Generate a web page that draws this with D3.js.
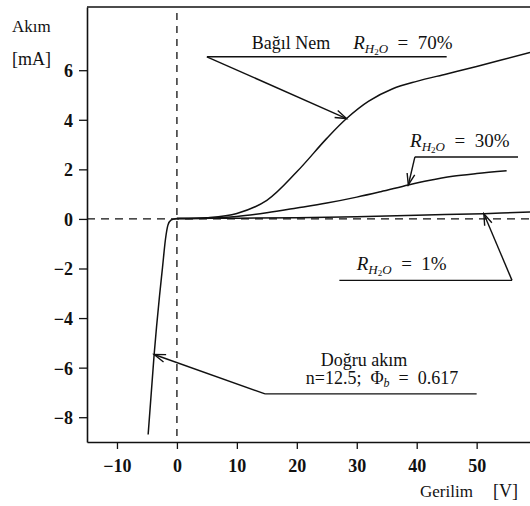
<!DOCTYPE html>
<html>
<head>
<meta charset="utf-8">
<script src="https://cdn.jsdelivr.net/npm/d3@7"></script>
<style>
  html, body { margin: 0; padding: 0; background: #fff; }
  svg { display: block; }
  text { font-family: "Liberation Serif", "Times New Roman", serif; fill: #111; }
  .tick text { font-weight: bold; font-size: 18px; }
</style>
</head>
<body>
<svg id="chart" width="530" height="506"></svg>
<script>
// Current–voltage characteristics at different relative humidity levels
const xTicks = [-10, 0, 10, 20, 30, 40, 50];
const yTicks = [-8, -6, -4, -2, 0, 2, 4, 6];

// reverse / forward-current branch (V, mA)
const reverseV = [-4.8, -3.8, -2.9, -2.4, -1.9, -1.5, -1.0, -0.4, 0];
const reverseI = [-8.7, -5.47, -3.1, -1.95, -0.8, -0.25, -0.05, 0.0, 0.02];

// R_H2O = 70 %
const rh70V = [0, 5, 10, 15, 20, 25, 28.3, 32, 36, 40, 45, 50, 58.9];
const rh70I = [0.02, 0.05, 0.22, 0.75, 1.9, 3.25, 4.05, 4.75, 5.25, 5.55, 5.85, 6.15, 6.72];

// R_H2O = 30 %
const rh30V = [0, 5, 10, 15, 20, 25, 30, 34, 38.6, 42, 46, 50, 55];
const rh30I = [0.02, 0.03, 0.1, 0.25, 0.44, 0.64, 0.88, 1.1, 1.37, 1.55, 1.72, 1.83, 1.94];

// R_H2O = 1 %
const rh1V = [0, 10, 20, 30, 40, 51.2, 58.9];
const rh1I = [0.02, 0.03, 0.05, 0.09, 0.15, 0.21, 0.28];

// callout anchors: arrow tip on the curve and elbow of the leader (V, mA)
const callouts = [
  { key: "rh70", tip: [28.3, 4.05], elbow: [5.0, 6.54], lineEnd: 45.0 },
  { key: "rh30", tip: [38.6, 1.37], elbow: [39.7, 2.5], lineEnd: 56.9 },
  { key: "rh1",  tip: [51.2, 0.21], elbow: [55.9, -2.48], lineEnd: 27.1 },
  { key: "dc",   tip: [-3.8, -5.47], elbow: [14.7, -7.06], lineEnd: 50.0 }
];

const svg = d3.select("#chart");
const plotLeft = 87, plotRight = 530, plotTop = 7, plotBottom = 442;

const x = d3.scaleLinear().domain([-15, 58.9]).range([plotLeft, plotRight]);
const y = d3.scaleLinear().domain([-9, 8.55]).range([plotBottom, plotTop]);

// frame: top border
svg.append("line")
  .attr("x1", plotLeft).attr("x2", plotRight).attr("y1", plotTop).attr("y2", plotTop)
  .attr("stroke", "#111").attr("stroke-width", 1.6);

// axes
const yAxis = d3.axisLeft(y).tickValues(yTicks).tickSize(8).tickSizeOuter(0).tickPadding(6)
  .tickFormat(d3.format("d"));
const xAxis = d3.axisBottom(x).tickValues(xTicks).tickSize(7).tickSizeOuter(0).tickPadding(6)
  .tickFormat(d3.format("d"));

const gy = svg.append("g").attr("transform", `translate(${plotLeft},0)`).call(yAxis);
const gx = svg.append("g").attr("transform", `translate(0,${plotBottom})`).call(xAxis);
[gy, gx].forEach(g => {
  g.select(".domain").attr("stroke", "#111").attr("stroke-width", 1.6);
  g.selectAll(".tick line").attr("stroke", "#111").attr("stroke-width", 1.3);
  g.selectAll(".tick text").attr("fill", "#111").style("font-family", "'Liberation Serif', serif");
});
gy.selectAll(".tick text").attr("dy", "0.36em");
gx.selectAll(".tick text").attr("dy", "0.95em");

// zero reference lines
svg.append("line")
  .attr("x1", x(0)).attr("x2", x(0)).attr("y1", plotTop + 6).attr("y2", plotBottom)
  .attr("stroke", "#111").attr("stroke-width", 1.3).attr("stroke-dasharray", "7,6");
svg.append("line")
  .attr("x1", plotLeft).attr("x2", plotRight).attr("y1", y(0)).attr("y2", y(0))
  .attr("stroke", "#111").attr("stroke-width", 1.3).attr("stroke-dasharray", "8,6");

// curves
const reverseLine = d3.line().x(d => x(d[0])).y(d => y(d[1])).curve(d3.curveMonotoneX);
const smoothLine = d3.line().x(d => x(d[0])).y(d => y(d[1])).curve(d3.curveCatmullRom.alpha(0.5));
const series = [
  [reverseV, reverseI, reverseLine],
  [rh70V, rh70I, smoothLine],
  [rh30V, rh30I, smoothLine],
  [rh1V, rh1I, smoothLine]
];
series.forEach(([vs, is, gen]) => {
  svg.append("path")
    .datum(vs.map((v, i) => [v, is[i]]))
    .attr("d", gen)
    .attr("fill", "none").attr("stroke", "#111").attr("stroke-width", 1.5);
});

// leader lines with open arrowheads
function arrowHead(tipPx, fromPx, len = 12, ang = 0.33) {
  const dx = fromPx[0] - tipPx[0], dy = fromPx[1] - tipPx[1];
  const n = Math.hypot(dx, dy), ux = dx / n, uy = dy / n;
  const rot = a => [tipPx[0] + len * (ux * Math.cos(a) - uy * Math.sin(a)),
                    tipPx[1] + len * (ux * Math.sin(a) + uy * Math.cos(a))];
  const p1 = rot(ang), p2 = rot(-ang);
  return `M${p1[0]},${p1[1]}L${tipPx[0]},${tipPx[1]}L${p2[0]},${p2[1]}`;
}
callouts.forEach(c => {
  const tip = [x(c.tip[0]), y(c.tip[1])];
  const elbow = [x(c.elbow[0]), y(c.elbow[1])];
  const g = svg.append("g").attr("stroke", "#111").attr("fill", "none").attr("stroke-width", 1.4);
  g.append("line").attr("x1", elbow[0]).attr("y1", elbow[1])
    .attr("x2", x(c.lineEnd)).attr("y2", elbow[1]);
  g.append("line").attr("x1", elbow[0]).attr("y1", elbow[1])
    .attr("x2", tip[0]).attr("y2", tip[1]);
  g.append("path").attr("d", arrowHead(tip, elbow));
});

// humidity label: italic R with H2O subscript
function rhLabel(xv, yv, value) {
  const t = svg.append("text").attr("x", x(xv)).attr("y", y(yv)).style("font-size", "19px");
  t.append("tspan").attr("font-style", "italic").text("R");
  t.append("tspan").attr("font-style", "italic").style("font-size", "13px").attr("dy", 4).text("H");
  t.append("tspan").style("font-size", "9px").attr("dy", 2).text("2");
  t.append("tspan").attr("font-style", "italic").style("font-size", "13px").attr("dy", -2).text("O");
  t.append("tspan").attr("dy", -4).text("\u2002=\u2002" + value);
}

svg.append("text").attr("x", x(12.5)).attr("y", y(6.85)).style("font-size", "18px").text("Bağıl Nem");
rhLabel(29.4, 6.85, "70%");
rhLabel(38.9, 2.9, "30%");
rhLabel(30.0, -2.08, "1%");

svg.append("text").attr("x", x(24)).attr("y", y(-5.95)).style("font-size", "18px").text("Doğru akım");
const dc = svg.append("text").attr("x", x(21.5)).attr("y", y(-6.66)).style("font-size", "18px");
dc.append("tspan").text("n=12.5;\u2002Φ");
dc.append("tspan").attr("font-style", "italic").style("font-size", "12px").attr("dy", 3).text("b");
dc.append("tspan").attr("dy", -3).text("\u2002=\u20020.617");

// axis titles
svg.append("text").attr("x", 12).attr("y", 32).style("font-size", "17px").text("Akım");
svg.append("text").attr("x", 12).attr("y", 65).style("font-size", "18px").text("[mA]");
svg.append("text").attr("x", 420).attr("y", 497).style("font-size", "17px").text("Gerilim");
svg.append("text").attr("x", 493).attr("y", 497).style("font-size", "18px").text("[V]");
</script>
</body>
</html>
